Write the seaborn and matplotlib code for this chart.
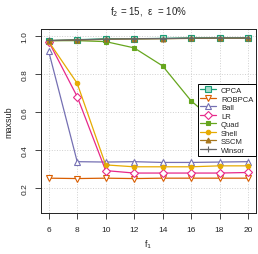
import pandas as pd
import matplotlib
matplotlib.use("Agg")
import matplotlib.pyplot as plt
import seaborn as sns

f1 = [6, 8, 10, 12, 14, 16, 18, 20]
methods = ["CPCA", "ROBPCA", "Ball", "LR", "Quad", "Shell", "SSCM", "Winsor"]

cpca = [0.975, 0.980, 0.985, 0.985, 0.987, 0.990, 0.990, 0.990]
robpca = [0.250, 0.248, 0.250, 0.248, 0.250, 0.250, 0.250, 0.250]
ball = [0.918, 0.337, 0.335, 0.337, 0.333, 0.333, 0.335, 0.337]
lr = [0.970, 0.680, 0.290, 0.277, 0.277, 0.277, 0.277, 0.280]
quad = [0.975, 0.975, 0.970, 0.937, 0.842, 0.658, 0.530, 0.450]
shell = [0.970, 0.750, 0.320, 0.310, 0.310, 0.310, 0.315, 0.315]
sscm = [0.975, 0.978, 0.982, 0.984, 0.985, 0.987, 0.988, 0.988]
winsor = [0.976, 0.979, 0.983, 0.985, 0.986, 0.988, 0.989, 0.989]

values = [cpca, robpca, ball, lr, quad, shell, sscm, winsor]
df = pd.concat([pd.DataFrame({"f1": f1, "maxsub": v, "method": m})
                for m, v in zip(methods, values)], ignore_index=True)

colors = sns.color_palette("Dark2", 8)
# marker, size, facecolor
styles = {
    "CPCA": ("s", 4.5, "#a6dccb"),
    "ROBPCA": ("v", 4.5, "white"),
    "Ball": ("^", 4.5, "white"),
    "LR": ("D", 3.8, "white"),
    "Quad": ("s", 3.2, None),
    "Shell": ("o", 3.2, None),
    "SSCM": ("^", 3.5, None),
    "Winsor": ("+", 4.5, None),
}

sns.set_style("ticks")
plt.rcParams["font.family"] = ["Liberation Sans", "DejaVu Sans"]

fig = plt.figure(figsize=(2.58, 2.55), dpi=100)
ax = fig.add_axes([0.158, 0.159, 0.834, 0.723])

for m, c in zip(methods, colors):
    mk, ms, fc = styles[m]
    sns.lineplot(data=df[df["method"] == m], x="f1", y="maxsub", ax=ax,
                 color=c, marker=mk, markersize=ms, linewidth=0.9,
                 markerfacecolor=fc if fc else c, markeredgecolor=c,
                 markeredgewidth=0.8, label=m)

ax.set_xlim(5.44, 20.56)
ax.set_ylim(0.064, 1.036)
ax.set_xticks(f1)
ax.set_yticks([0.2, 0.4, 0.6, 0.8, 1.0])
ax.set_yticklabels(["0.2", "0.4", "0.6", "0.8", "1.0"], rotation=90, va="center")
ax.grid(True, linestyle=":", color="#d0d0d0", linewidth=0.7)
ax.tick_params(labelsize=6, length=4, width=0.6, pad=5, direction="out")
for s in ax.spines.values():
    s.set_visible(True)
    s.set_linewidth(0.7)
    s.set_color("#222222")

ax.set_xlabel("f$_1$", fontsize=6.5, labelpad=3)
ax.set_ylabel("maxsub", fontsize=6.5, labelpad=6)
ax.set_title("f$_2$ = 15,  ε  = 10%", fontsize=7, pad=11)

leg = ax.legend(loc="upper right", bbox_to_anchor=(1.0, 0.702), borderaxespad=0,
                fontsize=5.5, frameon=True, fancybox=False, framealpha=1,
                edgecolor="black", labelspacing=0.15, handlelength=2.0,
                handletextpad=0.7, borderpad=0.35)
leg.get_frame().set_linewidth(0.7)

fig.savefig("out.png", dpi=100)
